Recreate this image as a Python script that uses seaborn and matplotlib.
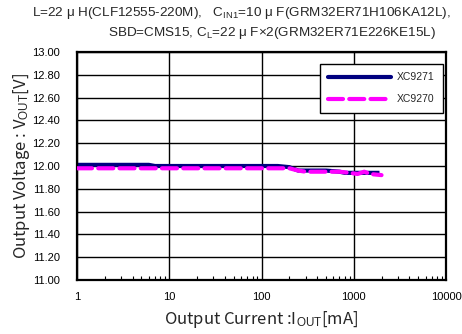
import numpy as np
import pandas as pd
import matplotlib
matplotlib.use("Agg")
import matplotlib.pyplot as plt
import seaborn as sns
from matplotlib.ticker import FixedLocator, LogLocator, NullFormatter
from matplotlib.lines import Line2D

# ---- data ----
iout_9271 = [1, 2, 4, 6, 7, 10, 20, 50, 100, 150, 200, 250, 300, 500, 700, 800, 1000, 1500, 1900]
vout_9271 = [12.01, 12.01, 12.01, 12.01, 12.00, 12.00, 12.00, 12.00, 12.00, 12.00, 11.99, 11.96, 11.96, 11.96, 11.95, 11.94, 11.94, 11.94, 11.94]
iout_9270 = [1, 2, 5, 10, 20, 50, 100, 150, 200, 250, 300, 500, 700, 900, 1100, 1300, 1500, 2000]
vout_9270 = [11.98, 11.98, 11.98, 11.98, 11.98, 11.98, 11.98, 11.98, 11.98, 11.96, 11.95, 11.95, 11.95, 11.94, 11.93, 11.95, 11.93, 11.92]
series_names = ["XC9271", "XC9270"]
y_ticks = [11.00, 11.20, 11.40, 11.60, 11.80, 12.00, 12.20, 12.40, 12.60, 12.80, 13.00]
x_ticks = [1, 10, 100, 1000, 10000]

df = pd.concat([
    pd.DataFrame({"Iout": iout_9271, "Vout": vout_9271, "series": series_names[0]}),
    pd.DataFrame({"Iout": iout_9270, "Vout": vout_9270, "series": series_names[1]}),
], ignore_index=True)

sns.set_theme(style="white")
plt.rcParams["font.family"] = ["Liberation Sans", "Noto Sans CJK JP", "DejaVu Sans"]
plt.rcParams["mathtext.fontset"] = "custom"
plt.rcParams["mathtext.rm"] = "Liberation Sans"
plt.rcParams["mathtext.it"] = "Liberation Sans"
plt.rcParams["mathtext.default"] = "rm"

fig = plt.figure(figsize=(4.62, 3.34), dpi=100)
ax = fig.add_axes([77/462, 1-280/334, (446-77)/462, (280-52)/334])

palette = {"XC9271": "#000080", "XC9270": "#FF00FF"}
sns.lineplot(data=df, x="Iout", y="Vout", hue="series", palette=palette,
             ax=ax, legend=False, estimator=None, sort=True)
dash = [3.6, 1.5]
lines = ax.get_lines()
lines[0].set_linewidth(3.0)
lines[0].set_solid_capstyle("butt")
lines[1].set_linewidth(3.0)
lines[1].set_dashes(dash)
lines[1].set_dash_capstyle("round")
lines[1].set_zorder(3)

ax.set_xscale("log")
ax.set_xlim(1, 10000)
ax.set_ylim(11.0, 13.0)
ax.xaxis.set_major_locator(FixedLocator(x_ticks))
ax.set_xticklabels([str(t) for t in x_ticks])
ax.xaxis.set_minor_locator(LogLocator(base=10, subs=np.arange(2, 10)))
ax.xaxis.set_minor_formatter(NullFormatter())
ax.set_yticks(y_ticks)
ax.set_yticklabels([f"{t:.2f}" for t in y_ticks])

ax.grid(True, which="major", color="black", linewidth=1.0)
ax.tick_params(axis="x", which="minor", direction="in", length=3, width=0.8, bottom=True, colors="black")
ax.tick_params(axis="x", which="major", direction="in", length=0, pad=9, labelsize=8, colors="black")
ax.tick_params(axis="y", which="major", length=0, pad=12, labelsize=8, colors="black")
for s in ax.spines.values():
    s.set_color("black")
    s.set_linewidth(1.6)
    s.set_visible(True)

ax.set_xlabel("Output Current :I$_{OUT}$[mA]", fontsize=12, family=["Noto Sans CJK JP", "DejaVu Sans"], labelpad=5)
ax.set_ylabel("Output Voltage : V$_{OUT}$[V]", fontsize=12, family=["Noto Sans CJK JP", "DejaVu Sans"], labelpad=0)

handles = [Line2D([], [], color="#000080", lw=3.0),
           Line2D([], [], color="#FF00FF", lw=3.0, dashes=dash, dash_capstyle="round")]
leg = ax.legend(handles, series_names, loc="upper right", bbox_to_anchor=(443/462, 1-64/334),
                bbox_transform=fig.transFigure, fontsize=7.5, frameon=True, fancybox=False,
                handlelength=6.0, handletextpad=0.6, labelspacing=1.15, borderpad=0.8,
                borderaxespad=0.0, edgecolor="black", framealpha=1.0)
leg.get_frame().set_linewidth(1.0)

fig.text(32/462, 1-13/334, "L=22 \u03bc H(CLF12555-220M),   C$_{IN1}$=10 \u03bc F(GRM32ER71H106KA12L),",
         fontsize=9.7, ha="left", va="center")
fig.text(108/462, 1-33/334, "SBD=CMS15, C$_{L}$=22 \u03bc F\u00d72(GRM32ER71E226KE15L)",
         fontsize=9.7, ha="left", va="center")

fig.savefig("out.png", dpi=100, facecolor="white")
